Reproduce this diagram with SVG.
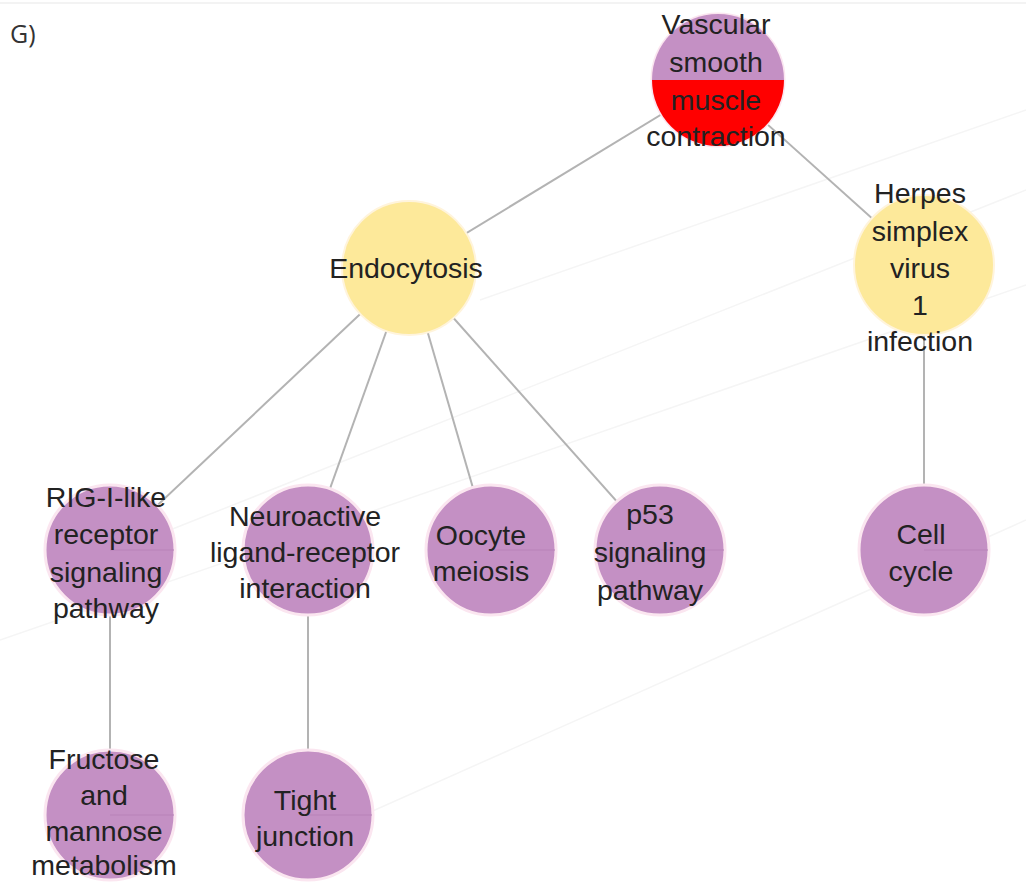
<svg xmlns="http://www.w3.org/2000/svg" width="1026" height="883" viewBox="0 0 1026 883">
  <style>
    .lbl { font-family: "Liberation Sans", Arial, sans-serif; font-size: 28.5px; fill: #222; text-anchor: middle; }
    .edge { stroke: #b3b3b3; stroke-width: 2; fill: none; }
    .bg { stroke: #f5f5f5; stroke-width: 1.5; fill: none; }
    .purple { fill: #c490c4; stroke: #fbe6f0; stroke-width: 3; }
    .yellow { fill: #fde99a; stroke: #fff4dc; stroke-width: 2; }
    .split { stroke: #b882b8; stroke-width: 1; }
  </style>
  <rect width="1026" height="883" fill="#ffffff"/>
  <line x1="0" y1="3" x2="1026" y2="3" stroke="#f3f3f3" stroke-width="2"/>
  <text x="10" y="43" font-family="'Open Sans', 'Liberation Sans', sans-serif" font-size="25" fill="#333">G)</text>

  <!-- faint background edges -->
  <g id="background-edges">
    <line class="bg" x1="0" y1="640" x2="1026" y2="285"/>
    <line class="bg" x1="170" y1="530" x2="1026" y2="190"/>
    <line class="bg" x1="330" y1="830" x2="1026" y2="520"/>
    <line class="bg" x1="480" y1="300" x2="1026" y2="110"/>
  </g>

  <g id="connectors">
    <line class="edge" x1="718" y1="80" x2="409" y2="268"/>
    <line class="edge" x1="718" y1="80" x2="924" y2="265"/>
    <line class="edge" x1="409" y1="268" x2="110" y2="550"/>
    <line class="edge" x1="409" y1="268" x2="308" y2="550"/>
    <line class="edge" x1="409" y1="268" x2="491" y2="550"/>
    <line class="edge" x1="409" y1="268" x2="660" y2="550"/>
    <line class="edge" x1="924" y1="265" x2="924" y2="550"/>
    <line class="edge" x1="110" y1="550" x2="110" y2="815"/>
    <line class="edge" x1="308" y1="550" x2="308" y2="815"/>
  </g>

  <g id="vascular-smooth-muscle-contraction">
    <circle cx="718" cy="80" r="66" fill="#fff" stroke="#fbe6f0" stroke-width="3"/>
    <path d="M652 80 A66 66 0 0 1 784 80 Z" fill="#c490c4"/>
    <path d="M652 80 A66 66 0 0 0 784 80 Z" fill="#ff0000"/>
    <text class="lbl" x="716" y="34">Vascular</text>
    <text class="lbl" x="716" y="72">smooth</text>
    <text class="lbl" x="716" y="110">muscle</text>
    <text class="lbl" x="716" y="146">contraction</text>
  </g>

  <g id="endocytosis">
    <circle class="yellow" cx="409" cy="268" r="67"/>
    <text class="lbl" x="406" y="278">Endocytosis</text>
  </g>

  <g id="herpes-simplex-virus-1-infection">
    <circle class="yellow" cx="924" cy="265" r="70"/>
    <text class="lbl" x="920" y="203">Herpes</text>
    <text class="lbl" x="920" y="241">simplex</text>
    <text class="lbl" x="920" y="278">virus</text>
    <text class="lbl" x="920" y="315">1</text>
    <text class="lbl" x="920" y="351">infection</text>
  </g>

  <g id="rig-i-like-receptor-signaling-pathway">
    <circle class="purple" cx="110" cy="550" r="65"/>
    <line class="split" x1="110" y1="550" x2="174" y2="550"/>
    <text class="lbl" x="106" y="507">RIG-I-like</text>
    <text class="lbl" x="106" y="544">receptor</text>
    <text class="lbl" x="106" y="582">signaling</text>
    <text class="lbl" x="106" y="618">pathway</text>
  </g>

  <g id="neuroactive-ligand-receptor-interaction">
    <circle class="purple" cx="308" cy="550" r="65"/>
    <line class="split" x1="308" y1="550" x2="372" y2="550"/>
    <text class="lbl" x="305" y="526">Neuroactive</text>
    <text class="lbl" x="305" y="562">ligand-receptor</text>
    <text class="lbl" x="305" y="598">interaction</text>
  </g>

  <g id="oocyte-meiosis">
    <circle class="purple" cx="491" cy="550" r="65"/>
    <line class="split" x1="491" y1="550" x2="555" y2="550"/>
    <text class="lbl" x="481" y="545">Oocyte</text>
    <text class="lbl" x="481" y="581">meiosis</text>
  </g>

  <g id="p53-signaling-pathway">
    <circle class="purple" cx="660" cy="550" r="65"/>
    <line class="split" x1="660" y1="550" x2="724" y2="550"/>
    <text class="lbl" x="650" y="524">p53</text>
    <text class="lbl" x="650" y="562">signaling</text>
    <text class="lbl" x="650" y="600">pathway</text>
  </g>

  <g id="cell-cycle">
    <circle class="purple" cx="924" cy="550" r="65"/>
    <line class="split" x1="924" y1="550" x2="988" y2="550"/>
    <text class="lbl" x="921" y="544">Cell</text>
    <text class="lbl" x="921" y="581">cycle</text>
  </g>

  <g id="fructose-and-mannose-metabolism">
    <circle class="purple" cx="110" cy="815" r="65"/>
    <line class="split" x1="110" y1="815" x2="174" y2="815"/>
    <text class="lbl" x="104" y="769">Fructose</text>
    <text class="lbl" x="104" y="805">and</text>
    <text class="lbl" x="104" y="841">mannose</text>
    <text class="lbl" x="104" y="875">metabolism</text>
  </g>

  <g id="tight-junction">
    <circle class="purple" cx="308" cy="815" r="65"/>
    <line class="split" x1="308" y1="815" x2="372" y2="815"/>
    <text class="lbl" x="305" y="810">Tight</text>
    <text class="lbl" x="305" y="846">junction</text>
  </g>
</svg>
